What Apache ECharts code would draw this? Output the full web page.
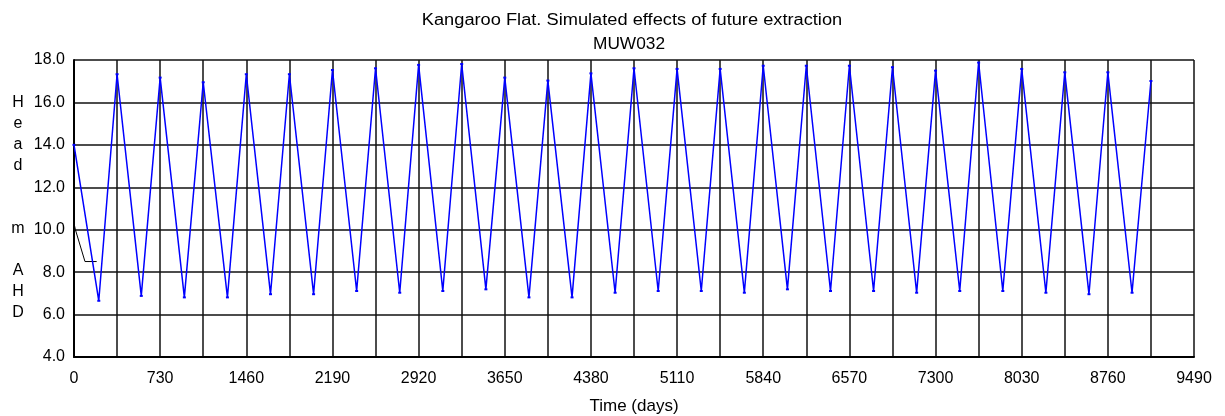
<!DOCTYPE html>
<html>
<head>
<meta charset="utf-8">
<title>MUW032</title>
<script src="https://cdn.jsdelivr.net/npm/echarts@6/dist/echarts.min.js"></script>
<style>
    html, body { margin: 0; padding: 0; background: #fff; }
    #chart { width: 1225px; height: 416px; }
</style>
</head>
<body>
<div id="chart"></div>
<script>
// Simulated head (m AHD) at MUW032, peaks and troughs
const days = [0, 210, 365, 570, 730, 935, 1095, 1300, 1460, 1665, 1825, 2030, 2190, 2395,
    2555, 2760, 2920, 3125, 3285, 3490, 3650, 3855, 4015, 4220, 4380, 4585, 4745, 4950,
    5110, 5315, 5475, 5680, 5840, 6045, 6205, 6410, 6570, 6775, 6935, 7140, 7300, 7505,
    7665, 7870, 8030, 8235, 8395, 8600, 8760, 8965, 9125];
const head = [14.0, 6.65, 17.33, 6.88, 17.17, 6.81, 16.95, 6.81, 17.33, 6.96, 17.33, 6.96,
    17.53, 7.11, 17.61, 7.03, 17.77, 7.11, 17.81, 7.19, 17.17, 6.81, 17.03, 6.81, 17.37,
    7.03, 17.61, 7.11, 17.58, 7.11, 17.58, 7.03, 17.73, 7.19, 17.73, 7.11, 17.73, 7.11,
    17.66, 7.03, 17.50, 7.11, 17.88, 7.11, 17.58, 7.03, 17.42, 6.96, 17.42, 7.03, 17.01];

// short black trace near the start
const obsDays = [0, 12, 93, 192];
const obsHead = [10.3, 10.0, 8.5, 8.5];

const xTicks = [0, 730, 1460, 2190, 2920, 3650, 4380, 5110, 5840, 6570, 7300, 8030, 8760, 9490];
const yLabel = ['H', 'e', 'a', 'd', '', '', 'm', '', 'A', 'H', 'D'];

const chart = echarts.init(document.getElementById('chart'));
const font = '"Liberation Sans", Arial, sans-serif';
const gridLine = { color: '#111', width: 1.5 };

const pairs = (xs, ys) => xs.map((x, i) => [x, ys[i]]);

chart.setOption({
    animation: false,
    textStyle: { fontFamily: font },
    grid: { left: 74, right: 31, top: 60, bottom: 59, outerBoundsMode: 'none' },
    graphic: [
        {
            type: 'text',
            x: 632, y: 21, scaleX: 1.14,
            style: { text: 'Kangaroo Flat. Simulated effects of future extraction', x: 0, y: 0,
                align: 'center', verticalAlign: 'middle', font: '16px ' + font, fill: '#000' }
        },
        {
            type: 'text',
            x: 629, y: 45, scaleX: 1.08,
            style: { text: 'MUW032', x: 0, y: 0,
                align: 'center', verticalAlign: 'middle', font: '16px ' + font, fill: '#000' }
        },
        {
            type: 'text',
            style: { text: yLabel.join('\n'), x: 18, y: 208, lineHeight: 21,
                align: 'center', verticalAlign: 'middle', font: '16px ' + font, fill: '#000' }
        }
    ],
    xAxis: {
        type: 'value',
        min: 0,
        max: 9490,
        interval: 365,
        name: 'Time (days)',
        nameLocation: 'middle',
        nameGap: 41,
        nameTextStyle: { fontSize: 17, color: '#000' },
        axisLine: { show: true, lineStyle: { color: '#000', width: 2 } },
        axisTick: { show: false },
        axisLabel: {
            color: '#000',
            fontSize: 16,
            margin: 14,
            showMaxLabel: true,
            formatter: v => xTicks.includes(v) ? String(v) : ''
        },
        splitLine: { show: true, lineStyle: gridLine }
    },
    yAxis: {
        type: 'value',
        min: 4,
        max: 18,
        interval: 2,
        axisLine: { show: true, lineStyle: { color: '#000', width: 2 } },
        axisTick: { show: false },
        axisLabel: { color: '#000', fontSize: 16, margin: 9, formatter: v => v.toFixed(1) },
        splitLine: { show: true, lineStyle: gridLine }
    },
    series: [
        {
            type: 'line',
            data: pairs(days, head),
            symbol: 'rect',
            symbolSize: [3, 2],
            itemStyle: { color: '#0000ff' },
            lineStyle: { color: '#0000ff', width: 1.5 },
            z: 3
        },
        {
            type: 'line',
            data: pairs(obsDays, obsHead),
            showSymbol: false,
            lineStyle: { color: '#000', width: 1 },
            z: 2
        }
    ]
});
</script>
</body>
</html>
